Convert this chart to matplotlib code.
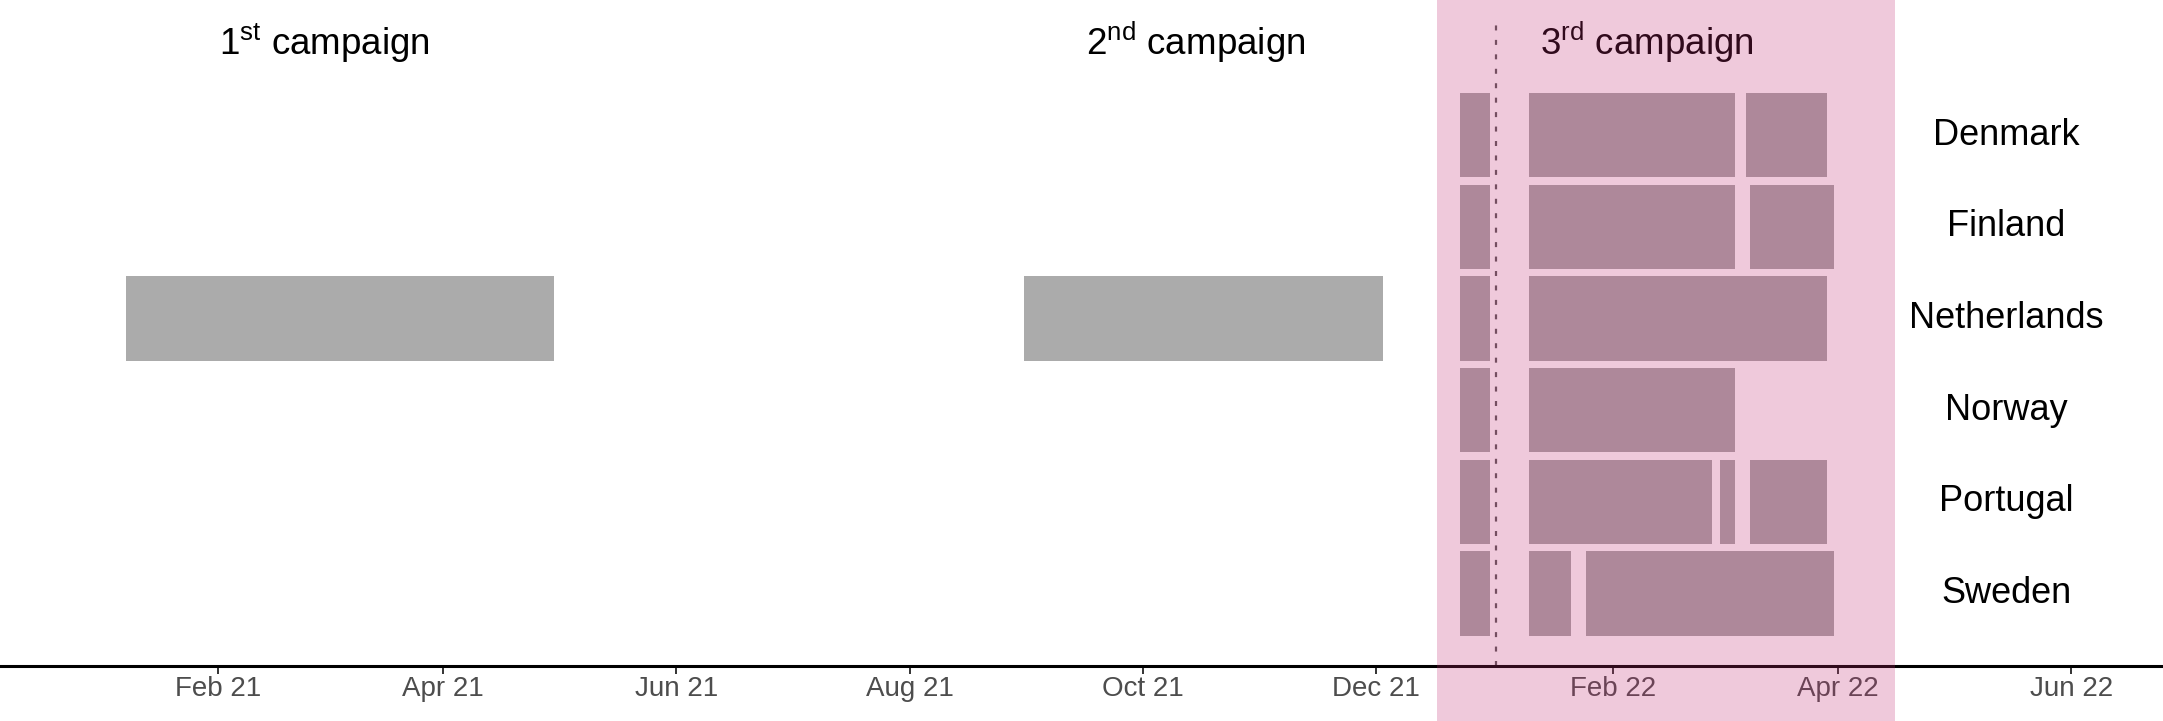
import datetime as dt
import matplotlib
matplotlib.use('Agg')
import matplotlib.pyplot as plt
import matplotlib.dates as mdates

plt.rcParams['font.family'] = ['Liberation Sans', 'DejaVu Sans']

# rows, top to bottom
countries = ['Denmark', 'Finland', 'Netherlands', 'Norway', 'Portugal', 'Sweden']

# campaigns 1 and 2 (grey bars)
grey_country = ['Netherlands', 'Netherlands']
grey_start = ['2021-01-08', '2021-08-31']
grey_end = ['2021-04-30', '2021-12-03']

# campaign 3 (bars under the pink window)
seg_country = ['Denmark', 'Denmark', 'Denmark',
               'Finland', 'Finland', 'Finland',
               'Netherlands', 'Netherlands',
               'Norway', 'Norway',
               'Portugal', 'Portugal', 'Portugal', 'Portugal',
               'Sweden', 'Sweden', 'Sweden']
seg_start = ['2021-12-23', '2022-01-10', '2022-03-08',
             '2021-12-23', '2022-01-10', '2022-03-09',
             '2021-12-23', '2022-01-10',
             '2021-12-23', '2022-01-10',
             '2021-12-23', '2022-01-10', '2022-03-01', '2022-03-09',
             '2021-12-23', '2022-01-10', '2022-01-25']
seg_end = ['2021-12-31', '2022-03-05', '2022-03-29',
           '2021-12-31', '2022-03-05', '2022-03-31',
           '2021-12-31', '2022-03-29',
           '2021-12-31', '2022-03-05',
           '2021-12-31', '2022-02-27', '2022-03-05', '2022-03-29',
           '2021-12-31', '2022-01-21', '2022-03-31']

window_start = '2021-12-17'
window_end = '2022-04-16'
cutoff = '2022-01-01 08:00'

campaign_labels = [r'$\mathregular{1^{st}}$ campaign',
                   r'$\mathregular{2^{nd}}$ campaign',
                   r'$\mathregular{3^{rd}}$ campaign']
campaign_x = ['2021-03-01', '2021-10-15', '2022-02-10']
label_x = '2022-05-15'

tick_dates = ['2021-02-01', '2021-04-01', '2021-06-01', '2021-08-01', '2021-10-01',
              '2021-12-01', '2022-02-01', '2022-04-01', '2022-06-01']
tick_labels = ['Feb 21', 'Apr 21', 'Jun 21', 'Aug 21', 'Oct 21',
               'Dec 21', 'Feb 22', 'Apr 22', 'Jun 22']


def d(s):
    return mdates.date2num(dt.datetime.fromisoformat(s))


ypos = {c: len(countries) - i for i, c in enumerate(countries)}  # Denmark=6 ... Sweden=1

fig = plt.figure(figsize=(21.63, 7.21), dpi=100)
ax = fig.add_axes([0, 0.0767, 1, 0.9233])

bar_h = 0.92
for c, s, e in zip(grey_country, grey_start, grey_end):
    ax.barh(ypos[c], d(e) - d(s), left=d(s), height=bar_h, color='#ABABAB', lw=0)
for c, s, e in zip(seg_country, seg_start, seg_end):
    ax.barh(ypos[c], d(e) - d(s), left=d(s), height=bar_h, color='#A8A8A8', lw=0)

ax.vlines(d(cutoff), 0.215, 7.29, colors='#5A5A5A', lw=1.6, linestyles=(0, (2.25, 4.25)))

# pink window drawn semi transparent over everything (also the axis)
ax.axvspan(d(window_start), d(window_end), ymin=-0.1, ymax=1, color=(195/255, 43/255, 115/255),
           alpha=0.25, lw=0, zorder=10, clip_on=False)

for lab, x in zip(campaign_labels, campaign_x):
    ax.text(d(x), 6.87, lab, ha='center', va='baseline', fontsize=26.5, color='black')
for c in countries:
    ax.text(d(label_x), ypos[c], c, ha='center', va='center', fontsize=26, color='black')

ax.set_xlim(d('2020-12-06'), d('2022-06-25'))
ax.set_ylim(0.215, 7.4716)
ax.set_xticks([d(t) for t in tick_dates])
ax.set_xticklabels(tick_labels)
ax.set_yticks([])
ax.tick_params(axis='x', length=5.8, width=1.4, color='#333333', labelsize=20,
               labelcolor='#4D4D4D', pad=1.5)
for sp in ['top', 'right', 'left']:
    ax.spines[sp].set_visible(False)
ax.spines['bottom'].set_linewidth(2.2)
ax.spines['bottom'].set_color('black')
ax.patch.set_alpha(0)

fig.savefig('out.png', dpi=100)
